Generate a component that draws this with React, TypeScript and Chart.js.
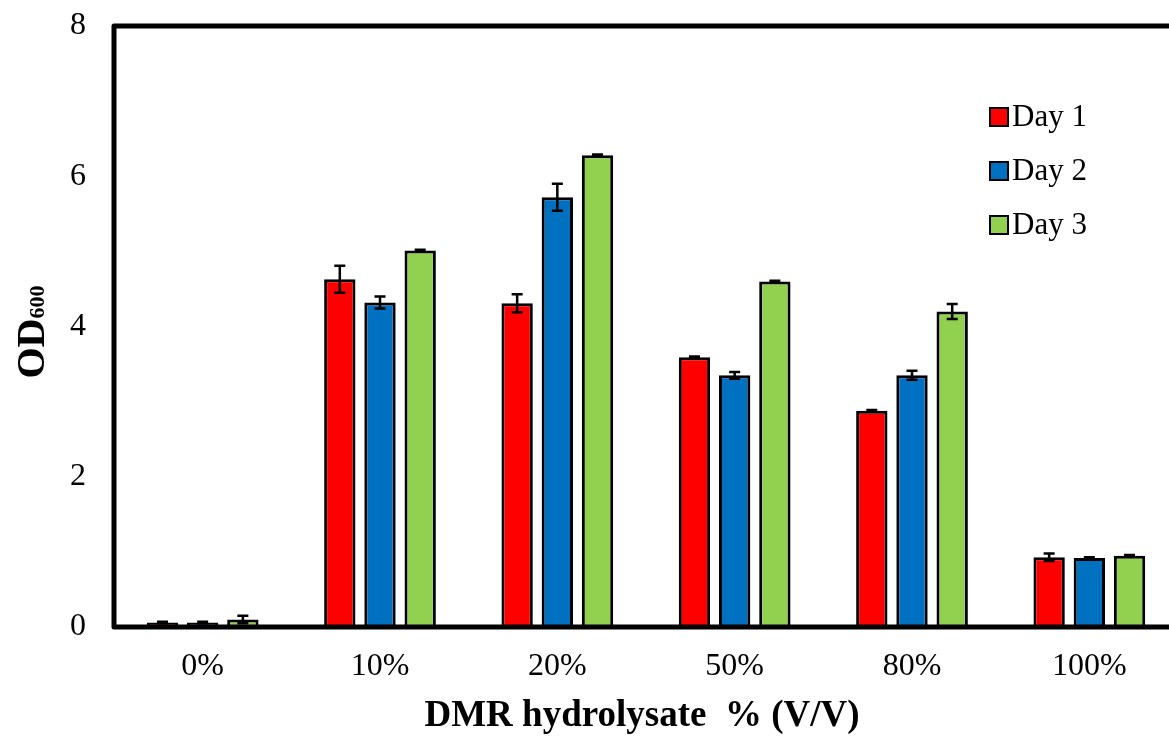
import React, { useEffect, useRef } from "react";
import { Chart, registerables } from "chart.js";

Chart.register(...registerables);

const categories = ["0%", "10%", "20%", "50%", "80%", "100%"];
const seriesNames = ["Day 1", "Day 2", "Day 3"];
const day1 = [0.06, 4.63, 4.31, 3.59, 2.88, 0.93];
const day2 = [0.06, 4.32, 5.72, 3.35, 3.35, 0.92];
const day3 = [0.1, 5.01, 6.28, 4.6, 4.2, 0.95];
const err1 = [0.01, 0.18, 0.12, 0.01, 0.01, 0.05];
const err2 = [0.01, 0.08, 0.18, 0.045, 0.06, 0.01];
const err3 = [0.05, 0.01, 0.01, 0.01, 0.1, 0.01];
const colors = ["#FF0000", "#0070C0", "#92D050"];
const yTicks = [0, 2, 4, 6, 8];
const xTitle = "DMR hydrolysate  % (V/V)";
const yTitleMain = "OD";
const yTitleSub = "600";

const W = 1200;
const H = 736;
const SERIF = "'Liberation Serif', 'Times New Roman', serif";

export default function App() {
  const ref = useRef<HTMLCanvasElement | null>(null);

  useEffect(() => {
    const canvas = ref.current;
    if (!canvas) return;
    const errs = [err1, err2, err3];

    const errorBars = {
      id: "errorBars",
      afterDatasetsDraw(chart: any) {
        const ctx = chart.ctx;
        const y = chart.scales.y;
        ctx.save();
        ctx.strokeStyle = "#000";
        ctx.lineWidth = 2.5;
        chart.data.datasets.forEach((ds: any, di: number) => {
          const meta = chart.getDatasetMeta(di);
          meta.data.forEach((bar: any, i: number) => {
            const v = ds.data[i];
            const e = errs[di][i];
            const yt = y.getPixelForValue(v + e);
            const yb = y.getPixelForValue(v - e);
            const x = bar.x;
            ctx.beginPath();
            ctx.moveTo(x, yt);
            ctx.lineTo(x, yb);
            ctx.moveTo(x - 5.5, yt);
            ctx.lineTo(x + 5.5, yt);
            ctx.moveTo(x - 5.5, yb);
            ctx.lineTo(x + 5.5, yb);
            ctx.stroke();
          });
        });
        const a = chart.chartArea;
        ctx.lineWidth = 5;
        ctx.lineJoin = "round";
        ctx.strokeRect(a.left, a.top, a.right - a.left, a.bottom - a.top);
        ctx.restore();
      },
      afterDraw(chart: any) {
        const ctx = chart.ctx;
        ctx.save();
        // legend
        chart.data.datasets.forEach((ds: any, i: number) => {
          const cy = 117 + 54 * i;
          ctx.fillStyle = ds.backgroundColor;
          ctx.fillRect(990, cy - 9, 18, 18);
          ctx.strokeStyle = "#000";
          ctx.lineWidth = 2;
          ctx.strokeRect(990, cy - 9, 18, 18);
          ctx.fillStyle = "#000";
          ctx.font = `31px ${SERIF}`;
          ctx.textAlign = "left";
          ctx.textBaseline = "middle";
          ctx.fillText(ds.label, 1012, cy + 1);
        });
        // x title
        ctx.fillStyle = "#000";
        ctx.font = `bold 37px ${SERIF}`;
        ctx.textAlign = "center";
        ctx.textBaseline = "alphabetic";
        ctx.fillText(xTitle, 642, 726);
        // y title
        ctx.translate(44, 332);
        ctx.rotate(-Math.PI / 2);
        ctx.font = `bold 40px ${SERIF}`;
        const w1 = ctx.measureText(yTitleMain).width;
        ctx.font = `bold 22px ${SERIF}`;
        const w2 = ctx.measureText(yTitleSub).width;
        const start = -(w1 + w2) / 2;
        ctx.textAlign = "left";
        ctx.font = `bold 40px ${SERIF}`;
        ctx.fillText(yTitleMain, start, 0);
        ctx.font = `bold 22px ${SERIF}`;
        ctx.fillText(yTitleSub, start + w1, 0);
        ctx.restore();
      },
    };

    const chart = new Chart(canvas, {
      type: "bar",
      data: {
        labels: categories,
        datasets: [day1, day2, day3].map((d, i) => ({
          label: seriesNames[i],
          data: d,
          backgroundColor: colors[i],
          borderColor: "#000",
          borderWidth: 3,
          categoryPercentage: 0.68,
          barPercentage: 0.78,
        })),
      },
      options: {
        responsive: false,
        animation: false,
        devicePixelRatio: 1,
        layout: { padding: { left: 0, top: 26, right: W - 1178, bottom: 0 } },
        plugins: { legend: { display: false }, tooltip: { enabled: false } },
        scales: {
          x: {
            grid: { display: false, drawTicks: false },
            border: { display: false },
            ticks: { font: { family: SERIF, size: 32 }, color: "#000", padding: 20 },
            afterFit: (s: any) => {
              s.height = H - 627;
              s.paddingLeft = 0;
              s.paddingRight = 0;
            },
          },
          y: {
            min: 0,
            max: 8,
            afterBuildTicks: (s: any) => {
              s.ticks = yTicks.map((v) => ({ value: v }));
            },
            grid: { display: false, drawTicks: false },
            border: { display: false },
            ticks: { font: { family: SERIF, size: 32 }, color: "#000", padding: 28 },
            afterFit: (s: any) => {
              s.width = 114;
              s.paddingTop = 0;
              s.paddingBottom = 0;
            },
          },
        },
      },
      plugins: [errorBars],
    });
    return () => chart.destroy();
  }, []);

  return (
    <div style={{ position: "fixed", left: 0, top: 0, width: 1169, height: 736, overflow: "hidden", background: "#fff" }}>
      <canvas ref={ref} width={W} height={H} style={{ display: "block", width: W, height: H }} />
    </div>
  );
}
